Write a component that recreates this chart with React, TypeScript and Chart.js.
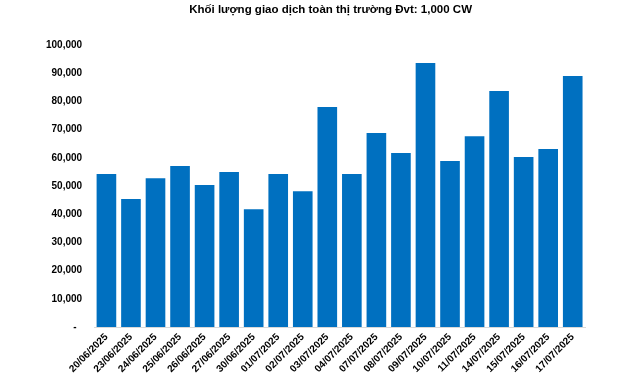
import React, { useEffect, useRef } from "react";
import { Chart, registerables } from "chart.js";

Chart.register(...registerables);

const TITLE = "Khối lượng giao dịch toàn thị trường Đvt: 1,000 CW";

const dates = [
  "20/06/2025", "23/06/2025", "24/06/2025", "25/06/2025", "26/06/2025",
  "27/06/2025", "30/06/2025", "01/07/2025", "02/07/2025", "03/07/2025",
  "04/07/2025", "07/07/2025", "08/07/2025", "09/07/2025", "10/07/2025",
  "11/07/2025", "14/07/2025", "15/07/2025", "16/07/2025", "17/07/2025",
];

const volumes = [
  54300, 45400, 52800, 57100, 50400,
  55000, 41800, 54300, 48200, 78000,
  54300, 68800, 61700, 93600, 58900,
  67700, 83700, 60300, 63100, 89000,
];

const yMin = 0;
const yMax = 100000;
const yStep = 10000;

const BAR_COLOR = "#0070C0";
const FONT = "'Liberation Sans', Arial, sans-serif";

function formatTick(v: number): string {
  if (v === 0) return "-  ";
  return v.toLocaleString("en-US");
}

const titlePlugin = {
  id: "fixedTitle",
  afterDraw(chart: any) {
    const ctx = chart.ctx;
    const area = chart.chartArea;
    ctx.save();
    ctx.font = `bold 11.5px ${FONT}`;
    ctx.fillStyle = "#000";
    ctx.textAlign = "center";
    ctx.textBaseline = "middle";
    ctx.fillText(TITLE, (area.left + area.right) / 2 - 9, 10);
    ctx.restore();
  },
};

export default function App() {
  const ref = useRef<HTMLCanvasElement | null>(null);

  useEffect(() => {
    document.body.style.margin = "0";
    const canvas = ref.current;
    if (!canvas) return;
    const chart = new Chart(canvas, {
      type: "bar",
      data: {
        labels: dates,
        datasets: [
          {
            data: volumes,
            backgroundColor: BAR_COLOR,
            borderWidth: 0,
            barPercentage: 0.8,
            categoryPercentage: 1,
          },
        ],
      },
      plugins: [titlePlugin],
      options: {
        animation: false,
        responsive: true,
        maintainAspectRatio: false,
        layout: { padding: { left: 34, right: 55, top: 45, bottom: 2 } },
        plugins: {
          legend: { display: false },
          tooltip: { enabled: false },
          title: { display: false },
        },
        scales: {
          x: {
            grid: { display: false, drawTicks: false },
            border: { display: true, color: "#d9d9d9", width: 1 },
            ticks: {
              color: "#000",
              font: { family: FONT, size: 10, weight: "bold" },
              maxRotation: 45,
              minRotation: 45,
              autoSkip: false,
              padding: 4,
            },
          },
          y: {
            min: yMin,
            max: yMax,
            grid: { display: false, drawTicks: false },
            border: { display: false },
            ticks: {
              stepSize: yStep,
              color: "#000",
              font: { family: FONT, size: 10, weight: "bold" },
              padding: 12,
              callback: (v) => formatTick(Number(v)),
            },
          },
        },
      },
    });
    return () => chart.destroy();
  }, []);

  return (
    <div style={{ width: 640, height: 381, position: "relative", background: "#fff" }}>
      <canvas ref={ref} />
    </div>
  );
}
